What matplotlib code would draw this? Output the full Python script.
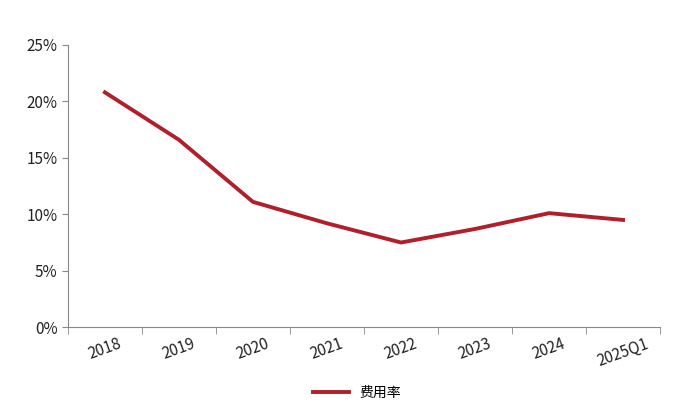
import matplotlib
matplotlib.use("Agg")
import matplotlib.pyplot as plt
from matplotlib.ticker import FuncFormatter, FixedLocator

plt.rcParams['font.family'] = ['Noto Sans CJK SC', 'DejaVu Sans']

categories = ["2018", "2019", "2020", "2021", "2022", "2023", "2024", "2025Q1"]
values = [20.8, 16.6, 11.1, 9.2, 7.5, 8.7, 10.1, 9.5]
series_name = "费用率"

fig = plt.figure(figsize=(7, 4.2), dpi=100)
ax = fig.add_axes([0.097, 0.221, 0.846, 0.672])
x = list(range(len(categories)))
ax.plot(x, values, color="#B01F2A", linewidth=2.8, label=series_name)
ax.set_xlim(-0.5, len(categories) - 0.5)
ax.set_ylim(0, 25)
ax.set_yticks([0, 5, 10, 15, 20, 25])
ax.yaxis.set_major_formatter(FuncFormatter(lambda v, p: f"{v:.0f}%"))
ax.set_xticks(x)
ax.set_xticklabels(categories, rotation=20, fontsize=11, color="#222222")
ax.xaxis.set_minor_locator(FixedLocator([i - 0.5 for i in range(len(categories) + 1)]))
ax.tick_params(axis='x', which='major', length=0, pad=6)
ax.tick_params(axis='x', which='minor', length=5, color="#888888")
ax.tick_params(axis='y', labelsize=11, length=4, color="#888888", labelcolor="#222222")
for s in ["top", "right"]:
    ax.spines[s].set_visible(False)
for s in ["left", "bottom"]:
    ax.spines[s].set_color("#888888")
fig.legend(loc="center", bbox_to_anchor=(0.51, 0.064), frameon=False, fontsize=10,
           handlelength=2.6)
fig.savefig("out.png", dpi=100)
